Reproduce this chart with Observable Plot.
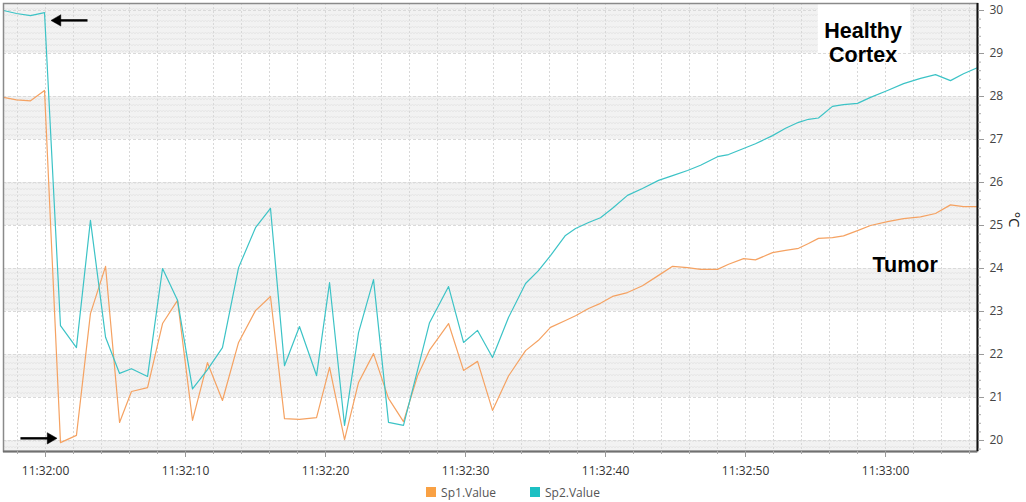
<!DOCTYPE html>
<html><head><meta charset="utf-8">
<script src="https://cdn.jsdelivr.net/npm/d3@7"></script>
<script src="https://cdn.jsdelivr.net/npm/@observablehq/plot@0.6"></script>
<style>
body{margin:0;background:#fff;font-family:"Open Sans","Noto Sans",sans-serif;}
#legend{height:20px;display:flex;justify-content:center;align-items:center;gap:34px;font-size:12px;color:#555;}
#legend .item{display:flex;align-items:center;gap:5px;}
#legend .sw{width:10px;height:10px;display:inline-block;}
</style></head><body>
<div id="chart"></div>
<div id="legend"></div>
<script>
// seconds relative to 11:32:00
const seconds = [-3.0,-2.07,-1.07,-0.07,1.07,2.21,3.21,4.29,5.29,6.14,
  7.29,8.36,9.43,10.5,11.57,12.64,13.79,15.0,16.07,17.07,
  18.14,19.36,20.29,21.36,22.36,23.43,24.5,25.57,26.57,27.43,
  28.79,29.86,30.86,31.93,33.07,34.29,35.21,36.07,37.14,37.86,
  38.79,39.64,40.5,41.57,42.64,43.79,44.79,45.86,46.79,48.0,
  48.79,49.86,50.71,51.93,52.86,53.79,54.5,55.21,56.21,57.0,
  58.0,58.93,60.14,61.29,62.5,63.57,64.64,65.57,66.57];
const sp1 = [27.98,27.92,27.9,28.14,19.95,20.12,22.95,24.05,20.42,21.14,
  21.23,22.72,23.26,20.47,21.81,20.93,22.28,23.02,23.35,20.51,
  20.49,20.53,21.7,20.02,21.35,22.02,20.98,20.44,21.5,22.1,
  22.72,21.63,21.84,20.7,21.5,22.09,22.33,22.63,22.79,22.9,
  23.07,23.19,23.35,23.44,23.6,23.84,24.05,24.02,23.98,23.98,
  24.1,24.23,24.2,24.37,24.42,24.47,24.58,24.7,24.72,24.76,
  24.88,25.0,25.09,25.16,25.2,25.28,25.48,25.44,25.44];
const sp2 = [30.0,29.93,29.88,29.95,22.67,22.16,25.12,22.4,21.56,21.67,
  21.49,24.0,23.26,21.2,21.65,22.16,24.02,24.95,25.4,21.74,
  22.65,21.51,23.67,20.35,22.51,23.74,20.42,20.35,21.63,22.74,
  23.58,22.28,22.56,21.93,22.86,23.65,23.95,24.3,24.77,24.93,
  25.07,25.18,25.4,25.7,25.86,26.05,26.16,26.28,26.4,26.6,
  26.65,26.79,26.9,27.09,27.26,27.4,27.47,27.5,27.77,27.81,
  27.84,27.98,28.14,28.3,28.42,28.51,28.37,28.53,28.67];
const seriesNames = ["Sp1.Value","Sp2.Value"];
const lineColors = ["#f5a262","#3cc3c6"];
const legendColors = ["#f9a144","#1dc0c3"];
const yTicks = [20,21,22,23,24,25,26,27,28,29,30];
const xTickSeconds = [0,10,20,30,40,50,60];
const bands = [[29,30.2],[27,28],[25,26],[23,24],[21,22],[19.7,20]];
const labelHealthy = {t:58.4, y:29.26, text:"Healthy\nCortex"};
const labelTumor = {t:61.4, y:24.1, text:"Tumor"};
const healthyBox = {t1:55.2, t2:61.8, y1:29.0, y2:30.2};
const arrows = [
  {t1:3.0, t2:0.95, y:29.77, head:0.86, rot:-90},
  {t1:-1.79, t2:0.2, y:20.05, head:0.36, rot:90}
];

const base = Date.UTC(2021,0,1,11,32,0);
const T = s => new Date(base + s*1000);
const data = seconds.map((s,i)=>({t:T(s), sp1:sp1[i], sp2:sp2[i]}));
const xDomain = [T(-3), T(66.57)];
const yDomain = [19.744, 30.163];
const grid2 = d3.range(-2, 67, 2).map(T);
const minorY = d3.range(198, 302, 2).map(v=>v/10);

const chart = Plot.plot({
  width: 1026, height: 482,
  marginTop: 3, marginLeft: 3, marginRight: 49, marginBottom: 31,
  style: {fontFamily: '"Open Sans","Noto Sans",sans-serif', fontSize: "12px", background: "#fff"},
  x: {type: "utc", domain: xDomain},
  y: {domain: yDomain},
  marks: [
    Plot.rect(bands, {y1: d=>d[0], y2: d=>d[1], fill: "url(#hatch)", clip: true}),
    Plot.ruleX(grid2, {stroke: "#d8d8d8", strokeWidth: 1, strokeDasharray: "2,2"}),
    Plot.ruleY(yTicks, {stroke: "#dadada", strokeWidth: 1, strokeDasharray: "3,2"}),
    Plot.rect([healthyBox], {x1: d=>T(d.t1), x2: d=>T(d.t2), y1: "y1", y2: "y2", fill: "white", clip: true}),
    Plot.line(data, {x: "t", y: "sp1", stroke: lineColors[0], strokeWidth: 1.2, clip: true}),
    Plot.line(data, {x: "t", y: "sp2", stroke: lineColors[1], strokeWidth: 1.2, clip: true}),
    Plot.text([labelHealthy, labelTumor], {x: d=>T(d.t), y: "y", text: "text", fontFamily: '"Liberation Sans",Arial,sans-serif', fontWeight: "bold", fontSize: 21.5, lineHeight: 1.1, fill: "black"}),
    Plot.link(arrows, {x1: d=>T(d.t1), x2: d=>T(d.t2), y1: "y", y2: "y", stroke: "black", strokeWidth: 2.4}),
    Plot.dot(arrows, {x: d=>T(d.head), y: "y", symbol: "triangle", r: 4.2, rotate: "rot", fill: "black", stroke: "black", strokeWidth: 0.5}),
    Plot.frame({stroke: "#8a8a8a", strokeWidth: 1.5}),
    Plot.ruleY([yDomain[0]], {stroke: "#707070", strokeWidth: 2.2}),
    Plot.ruleX([xDomain[1]], {stroke: "#111", strokeWidth: 2}),
    Plot.axisX({ticks: grid2.filter(d=>d>=xDomain[0]), tickSize: 3, tickFormat: () => "", stroke: "#aaa", label: null}),
    Plot.axisX({ticks: xTickSeconds.map(T), tickSize: 6, tickPadding: 9, tickFormat: d3.utcFormat("%H:%M:%S"), fill: "#333", stroke: "#999", label: null}),
    Plot.axisY({anchor: "right", ticks: minorY, tickSize: 3, tickFormat: () => "", stroke: "#aaa", label: null}),
    Plot.axisY({anchor: "right", ticks: yTicks, tickSize: 6, tickPadding: 6, fill: "#444", stroke: "#999", label: null}),
    Plot.text(["°C"], {frameAnchor: "right", dx: 36, rotate: 90, fontSize: 15, fill: "#222"})
  ]
});

chart.insertAdjacentHTML("afterbegin",
  '<defs><pattern id="hatch" width="6" height="6" patternUnits="userSpaceOnUse">' +
  '<rect width="6" height="6" fill="#f2f2f2"/>' +
  '<path d="M0,4 L1.5,2 L3,4 L4.5,2 L6,4" fill="none" stroke="#e2e2e2" stroke-width="0.7"/>' +
  '</pattern></defs>');
document.getElementById("chart").appendChild(chart);

const lg = document.getElementById("legend");
seriesNames.forEach((n,i)=>{
  const it = document.createElement("span"); it.className = "item";
  const sw = document.createElement("span"); sw.className = "sw"; sw.style.background = legendColors[i];
  const tx = document.createElement("span"); tx.textContent = n;
  it.appendChild(sw); it.appendChild(tx); lg.appendChild(it);
});
</script>
</body></html>
